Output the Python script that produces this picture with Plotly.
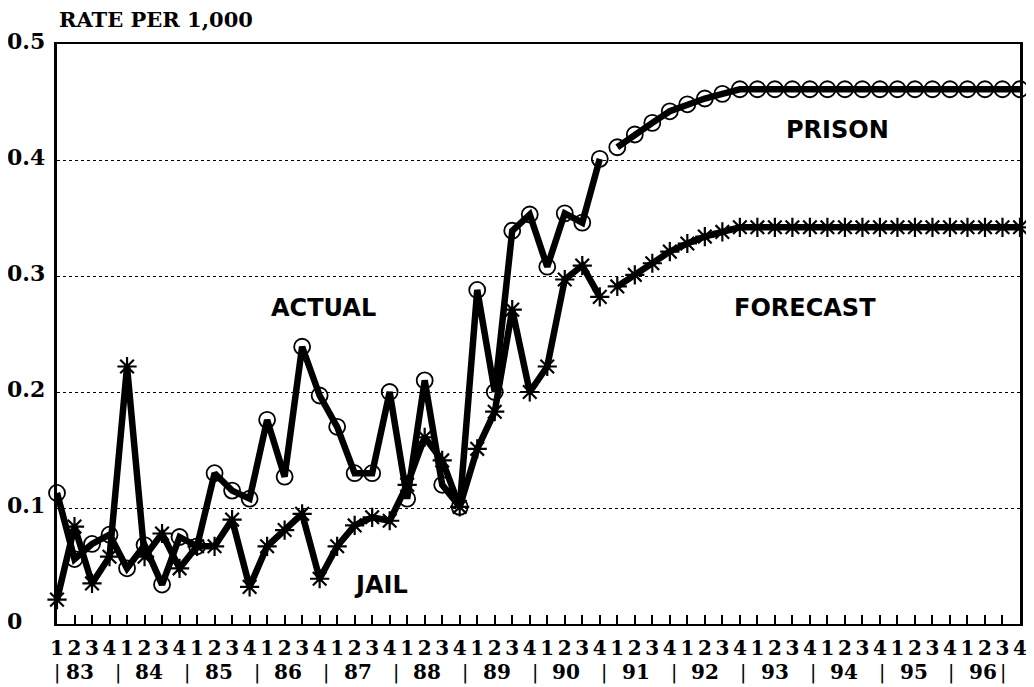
import plotly.graph_objects as go

# ---------------- data ----------------
years = ["83", "84", "85", "86", "87", "88", "89", "90", "91", "92", "93", "94", "95", "96"]
quarter_digits = ["1", "2", "3", "4"]

prison_actual = [0.113, 0.056, 0.069, 0.077, 0.048, 0.068, 0.034, 0.075,
                 0.067, 0.130, 0.115, 0.108, 0.176, 0.127, 0.239, 0.197,
                 0.170, 0.130, 0.130, 0.200, 0.108, 0.210, 0.120, 0.101,
                 0.288, 0.200, 0.339, 0.353, 0.308, 0.354, 0.346, 0.401]
jail_actual = [0.021, 0.084, 0.035, 0.058, 0.222, 0.058, 0.078, 0.048,
               0.067, 0.067, 0.090, 0.032, 0.067, 0.081, 0.095, 0.039,
               0.067, 0.085, 0.092, 0.089, 0.120, 0.161, 0.141, 0.101,
               0.151, 0.183, 0.271, 0.200, 0.222, 0.297, 0.309, 0.282]
prison_forecast = [0.411, 0.422, 0.432, 0.442, 0.448, 0.453, 0.457, 0.461,
                   0.461, 0.461, 0.461, 0.461, 0.461, 0.461, 0.461, 0.461,
                   0.461, 0.461, 0.461, 0.461, 0.461, 0.461, 0.461, 0.461]
jail_forecast = [0.291, 0.301, 0.311, 0.321, 0.328, 0.334, 0.338, 0.342,
                 0.342, 0.342, 0.342, 0.342, 0.342, 0.342, 0.342, 0.342,
                 0.342, 0.342, 0.342, 0.342, 0.342, 0.342, 0.342, 0.342]

y_ticks = [0, 0.1, 0.2, 0.3, 0.4, 0.5]
y_tick_text = ["0", "0.1", "0.2", "0.3", "0.4", "0.5"]

# ---------------- derived ----------------
n_q = len(years) * 4
x_all = list(range(n_q))
n_act = len(prison_actual)
x_act = x_all[:n_act]
x_fc = x_all[n_act:]
tick_text = [quarter_digits[i % 4] for i in x_all]

SERIF = "DejaVu Serif"
SANS = "DejaVu Sans"

fig = go.Figure()

line_style = dict(color="black", width=6.5)
circle_marker = dict(symbol="circle-open", size=16, color="black", line=dict(width=1.8, color="black"))
star_marker = dict(symbol="asterisk-open", size=16, color="black", line=dict(width=2.2, color="black"))

fig.add_trace(go.Scatter(x=x_act, y=prison_actual, mode="lines+markers", line=line_style,
                         marker=circle_marker, cliponaxis=False, name="Prison (actual)"))
fig.add_trace(go.Scatter(x=x_fc, y=prison_forecast, mode="lines+markers", line=line_style,
                         marker=circle_marker, cliponaxis=False, name="Prison (forecast)"))
fig.add_trace(go.Scatter(x=x_act, y=jail_actual, mode="lines+markers", line=line_style,
                         marker=star_marker, cliponaxis=False, name="Jail (actual)"))
fig.add_trace(go.Scatter(x=x_fc, y=jail_forecast, mode="lines+markers", line=line_style,
                         marker=star_marker, cliponaxis=False, name="Jail (forecast)"))

# page has an 8px body margin: compensate so the plot sits where the original does
OFF = 8
W, H = 1034 - OFF, 687 - OFF
L, R, T, B = 57 - OFF, 7, 44 - OFF, 63
plot_w = W - L - R

def px_to_paper_x(px):
    # px is a window pixel position
    return (px - OFF - L) / plot_w

annotations = []
# y tick labels (left aligned like the original)
for v, txt in zip(y_ticks, y_tick_text):
    annotations.append(dict(x=px_to_paper_x(5), xref="paper", y=v, yref="y", text="<b>" + txt + "</b>",
                            showarrow=False, xanchor="left", yanchor="middle",
                            font=dict(family=SERIF, size=22, color="black"), yshift=3))
# axis title
annotations.append(dict(x=px_to_paper_x(57), xref="paper", y=1, yref="paper", yshift=25,
                        text="<b>RATE PER 1,000</b>", showarrow=False, xanchor="left", yanchor="middle",
                        font=dict(family=SERIF, size=21, color="black")))
# year row
for k, yr in enumerate(years):
    annotations.append(dict(x=px_to_paper_x(80 + 70 * k), xref="paper", y=0, yref="paper", yshift=-48,
                            text="<b>" + yr + "</b>", showarrow=False, xanchor="center", yanchor="middle",
                            font=dict(family=SERIF, size=20, color="black")))
sep_px = [57] + [118 + 70 * (k - 1) for k in range(1, len(years))] + [1010]
for sx in sep_px:
    annotations.append(dict(x=px_to_paper_x(sx), xref="paper", y=0, yref="paper", yshift=-48,
                            text="|", showarrow=False, xanchor="center", yanchor="middle",
                            font=dict(family=SANS, size=19, color="black")))
# in-plot labels
for txt, xi, yv in [("ACTUAL", 15.2, 0.272), ("JAIL", 18.5, 0.034),
                    ("PRISON", 44.55, 0.426), ("FORECAST", 42.7, 0.272)]:
    annotations.append(dict(x=xi, y=yv, xref="x", yref="y", text="<b>" + txt + "</b>",
                            showarrow=False, xanchor="center", yanchor="middle",
                            font=dict(family=SANS, size=24, color="black")))

fig.update_layout(
    width=W, height=H,
    margin=dict(l=L, r=R, t=T, b=B),
    paper_bgcolor="white", plot_bgcolor="white",
    showlegend=False,
    annotations=annotations,
    xaxis=dict(range=[0, n_q - 1], tickmode="array", tickvals=x_all, ticktext=tick_text,
               ticks="inside", ticklen=9, tickwidth=1.5, tickcolor="black",
               showline=True, linecolor="black", linewidth=2, mirror=True,
               showgrid=False, zeroline=False,
               tickfont=dict(family=SERIF, size=20, color="black", weight="bold"), tickangle=0,
               ticklabelstandoff=5),
    yaxis=dict(range=[0, 0.5], tickmode="array", tickvals=y_ticks, showticklabels=False,
               ticks="", showline=True, linecolor="black", linewidth=2.5, mirror=True,
               showgrid=True, gridcolor="black", gridwidth=1, griddash="dot",
               zeroline=False),
)

fig.write_html("out.html")
